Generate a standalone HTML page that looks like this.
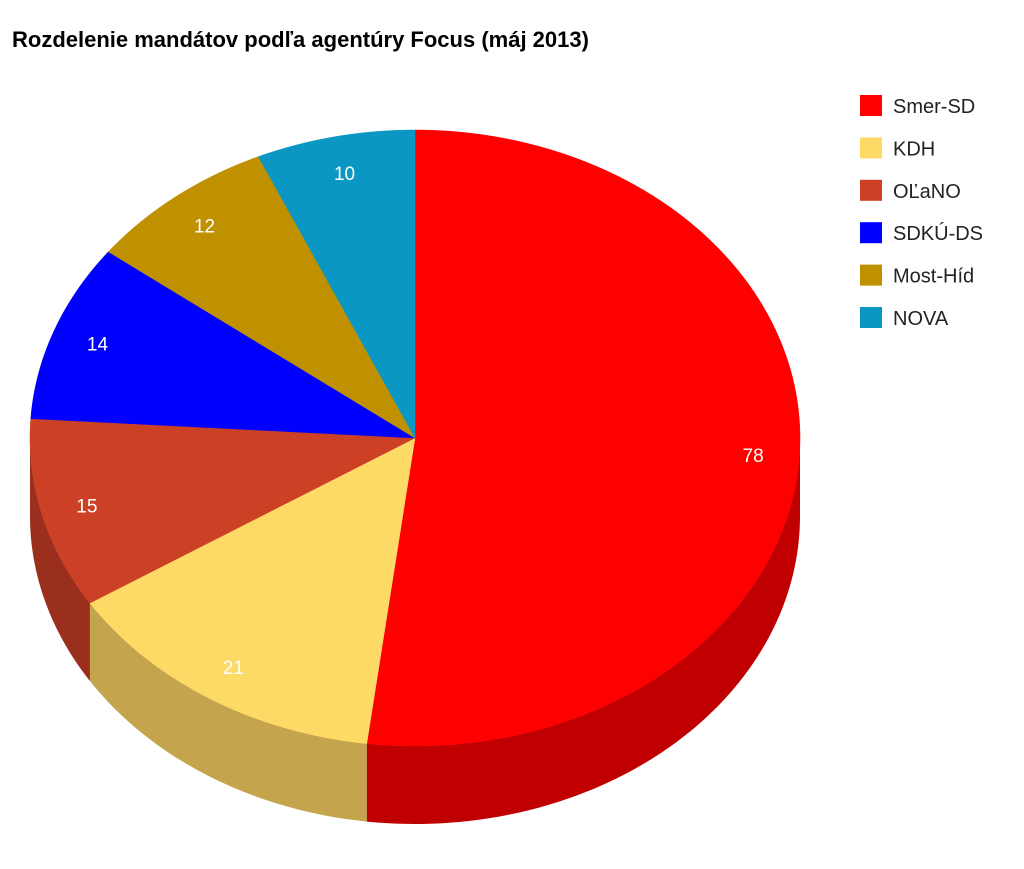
<!DOCTYPE html>
<html><head><meta charset="utf-8">
<style>
body{margin:0;background:#fff;}
svg{display:block;font-family:"Liberation Sans",sans-serif;}
</style></head>
<body>
<svg id="chart" width="1024" height="869" viewBox="0 0 1024 869">
<rect width="1024" height="869" fill="#fff"/>
<text x="12" y="47" font-size="22" font-weight="bold" fill="#000">Rozdelenie mandátov podľa agentúry Focus (máj 2013)</text>
<g id="sides"></g><g id="tops"></g><g id="labels"></g><g id="legend"></g>
</svg>
<script>
const categories = ["Smer-SD","KDH","OĽaNO","SDKÚ-DS","Most-Híd","NOVA"];
const values = [78,21,15,14,12,10];
const colors = ["#ff0000","#fdd966","#cc4125","#0000ff","#bf9000","#0b97c4"];
const sideColors = ["#c00000","#c4a44c","#9b2f1d","#0000b0","#8f6c00","#08708f"];
const NS="http://www.w3.org/2000/svg";
const cx=415, cy=438, rx=385, ry=308, depth=78;
const total=values.reduce((a,b)=>a+b,0);
function pt(deg,dy){const r=deg*Math.PI/180;return [cx+rx*Math.sin(r), cy-ry*Math.cos(r)+(dy||0)];}
function mk(tag,attrs,parent){const e=document.createElementNS(NS,tag);for(const k in attrs)e.setAttribute(k,attrs[k]);parent.appendChild(e);return e;}
const sides=document.getElementById('sides'),tops=document.getElementById('tops'),labels=document.getElementById('labels'),legend=document.getElementById('legend');
let start=0;
values.forEach((v,i)=>{
  const a0=start, a1=start+v/total*360; start=a1;
  // side wall for the front part (90..270 deg)
  const s0=Math.max(a0,90), s1=Math.min(a1,270);
  if(s1>s0){
    let d="M"+pt(s0)+" ";
    for(let a=s0;a<=s1;a+=1)d+="L"+pt(a)+" ";
    d+="L"+pt(s1)+" L"+pt(s1,depth)+" ";
    for(let a=s1;a>=s0;a-=1)d+="L"+pt(a,depth)+" ";
    d+="L"+pt(s0,depth)+" Z";
    const p=mk('path',{d:d,fill:sideColors[i]},sides);
    
    
  }
  let d="M"+cx+","+cy+" L"+pt(a0)+" ";
  for(let a=a0;a<a1;a+=1)d+="L"+pt(a)+" ";
  d+="L"+pt(a1)+" Z";
  const sl=mk('path',{d:d,fill:colors[i],stroke:colors[i],'stroke-width':0.5},tops);
  
  
  const m=(a0+a1)/2, r=m*Math.PI/180;
  const lx=cx+0.88*rx*Math.sin(r), ly=cy-0.88*ry*Math.cos(r)+7;
  const t=mk('text',{x:lx,y:ly,'font-size':19,fill:'#fff','text-anchor':'middle'},labels);
  t.textContent=v;
  
  
  const ly2=95+i*42.4;
  const g=mk('g',{},legend);
  
  
  mk('rect',{x:860,y:ly2,width:22,height:21,fill:colors[i]},g);
  const lt=mk('text',{x:893,y:ly2+18,'font-size':20,fill:'#222'},g);
  lt.textContent=categories[i];
});
</script>
</body></html>
